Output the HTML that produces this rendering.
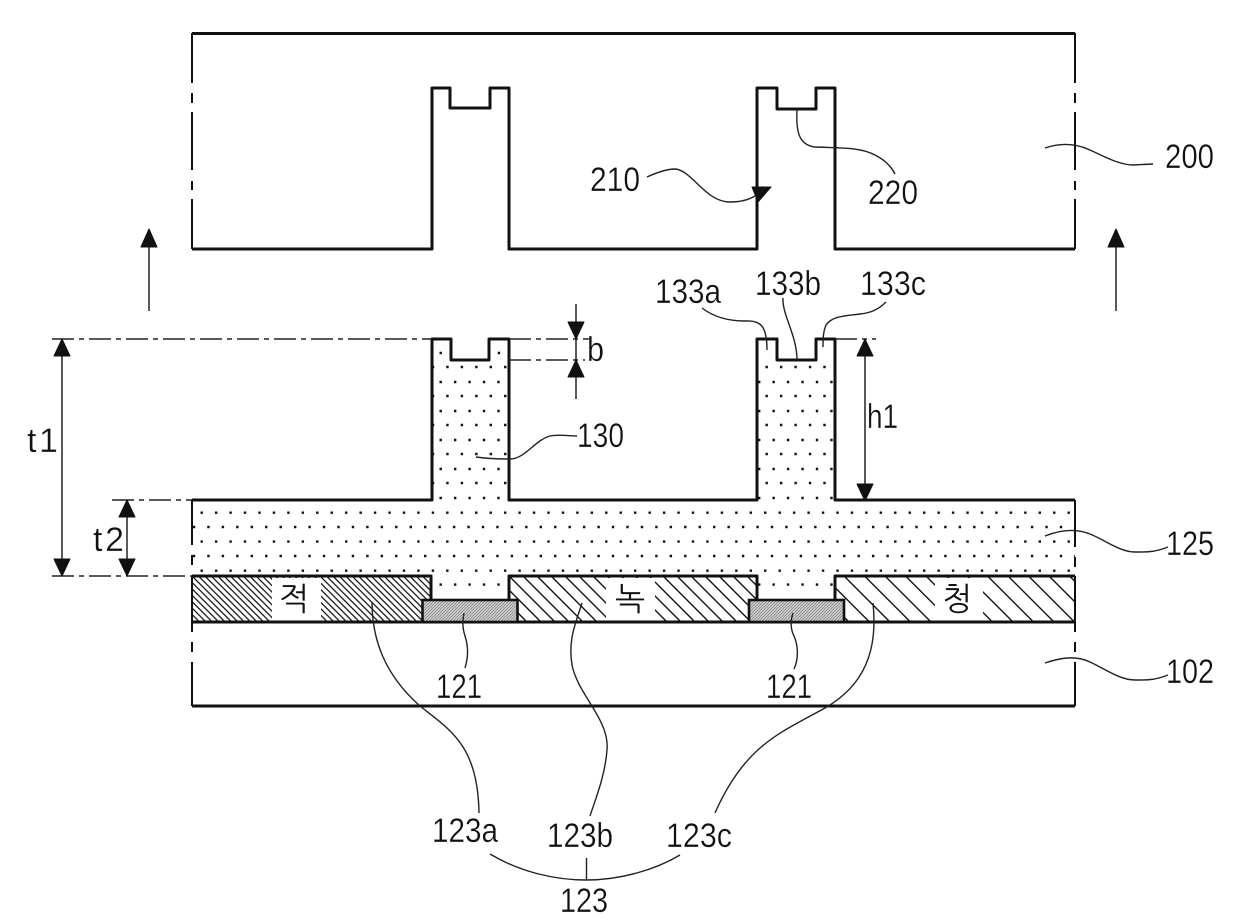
<!DOCTYPE html>
<html><head><meta charset="utf-8"><title>Diagram</title>
<style>
html,body{margin:0;padding:0;background:#fff;width:1240px;height:923px;overflow:hidden}
svg{display:block}
text{font-family:"Liberation Sans","Noto Sans CJK KR",sans-serif;font-size:34px;fill:#111;stroke:#fff;stroke-width:.3}
.k{font-family:"NanumGothic","Noto Sans CJK KR",sans-serif;font-size:32px;text-anchor:middle;stroke:none}
.th{fill:none;stroke:#111;stroke-width:3;stroke-linejoin:round}
.md{fill:none;stroke:#111;stroke-width:2}
.ln{fill:none;stroke:#222;stroke-width:1.5}
.da{fill:none;stroke:#222;stroke-width:1.5;stroke-dasharray:22 5 5 5}
.ar{fill:#111;stroke:#111;stroke-width:1;stroke-linejoin:round}
.dt{fill:none;stroke:#111;stroke-width:2.4;stroke-dasharray:2.4 12.05}
</style></head>
<body>
<svg width="1240" height="923" viewBox="0 0 1240 923" xmlns="http://www.w3.org/2000/svg">
<defs>
<pattern id="hR" patternUnits="userSpaceOnUse" width="6.4" height="6.4">
<path d="M-1 -1L7.4 7.4M-7.4 -1L1 7.4M5.4 -1L13.8 7.4" stroke="#111" stroke-width="1.3" fill="none"/></pattern>
<pattern id="hG" patternUnits="userSpaceOnUse" width="14" height="14" patternTransform="translate(3,0)">
<path d="M-1 -1L15 15M-15 -1L1 15M13 -1L29 15" stroke="#111" stroke-width="1.4" fill="none"/></pattern>
<pattern id="hB" patternUnits="userSpaceOnUse" width="20.5" height="20.5" patternTransform="translate(1.5,0)">
<path d="M-1 -1L21.5 21.5M-21.5 -1L1 21.5M19.5 -1L42 21.5" stroke="#111" stroke-width="1.4" fill="none"/></pattern>
<pattern id="hY" patternUnits="userSpaceOnUse" width="3" height="3">
<rect width="3" height="3" fill="#d2d2d2"/><path d="M-1 4L4 -1M-1 1L1 -1M2 4L4 2" stroke="#8a8a8a" stroke-width=".8" fill="none"/></pattern>
</defs>

<!-- dots: layer 125 -->
<path class="dt" d="M200.5 512.7H1075M192.8 527H1075M200.5 541.6H1075M192.8 556H1075M200.5 570.7H1075"/>
<!-- dots: first pillar -->
<path class="dt" d="M439.5 353H444M497.7 353H502"/>
<path class="dt" d="M431.8 367H509M439.5 382H509M431.8 396H509M439.5 411H509M431.8 425H509M439.5 440H509M431.8 454H509M439.5 469H509M431.8 483H509M439.5 498H509M439.5 584.6H509"/>
<!-- dots: second pillar -->
<path class="dt" d="M765.5 367H835M758 382H835M765.5 396H835M758 411H835M765.5 425H835M758 440H835M765.5 454H835M758 469H835M765.5 483H835M758 498H835M758 584.6H835"/>

<!-- hatching -->
<rect x="192" y="576" width="239" height="46" fill="url(#hR)"/>
<rect x="509" y="576" width="248" height="46" fill="url(#hG)"/>
<rect x="835" y="576" width="240" height="46" fill="url(#hB)"/>
<rect x="272" y="578" width="49" height="43" fill="#fff"/>
<rect x="606" y="578" width="49" height="43" fill="#fff"/>
<rect x="935" y="578" width="48" height="43" fill="#fff"/>

<!-- top block -->
<path class="th" d="M192 33.5H1075"/>
<path class="th" d="M192 249H432V88H450V108H490V88H509V249H757V88H777V109H816V88H835V249H1075"/>
<path class="md" d="M192 33V83M192 93V103M192 112V170M192 181V190M192 199V249"/>
<path class="md" d="M1075 33V83M1075 93V103M1075 112V170M1075 181V190M1075 199V249"/>

<!-- lower structure -->
<path class="th" d="M192 500H432V339H451V360H489V339H509V500H757V339H777V360H816V339H835V500H1075"/>
<path class="th" d="M192 576H431V600M509 600V576H757V600M835 600V576H1075"/>
<path class="th" d="M192 622H1075"/>
<path class="th" d="M192 706H1075"/>
<path class="md" d="M192 500V545M192 555V565M192 576V632M192 642V652M192 662V706"/>
<path class="md" d="M1075 500V547M1075 557V567M1075 576V632M1075 642V652M1075 662V706"/>

<!-- TFT blocks -->
<rect x="422.5" y="600" width="95" height="22" fill="url(#hY)" stroke="#111" stroke-width="2.6"/>
<rect x="749" y="600" width="95" height="22" fill="url(#hY)" stroke="#111" stroke-width="2.6"/>

<!-- dash-dot extension lines -->
<path class="da" d="M52 339H432"/>
<path class="da" d="M509 339H590"/>
<path class="da" d="M509 360H585"/>
<path class="da" d="M835 339H876"/>
<path class="da" d="M112 500H192"/>
<path class="da" d="M52 576H192"/>

<!-- dimension arrows -->
<path class="ln" d="M62 345V570"/>
<path class="ar" d="M62 339L70 356H54ZM62 576L70 559H54Z"/>
<path class="ln" d="M127 505V570"/>
<path class="ar" d="M127 500L135 517H119ZM127 576L135 559H119Z"/>
<path class="ln" d="M576 304V399"/>
<path class="ar" d="M576 339L584 322H568ZM576 360L584 377H568Z"/>
<path class="ln" d="M865 345V495"/>
<path class="ar" d="M865 339L873 356H857ZM865 501L873 484H857Z"/>
<path class="ln" d="M149 235V311"/>
<path class="ar" d="M149 229L157 247H141Z"/>
<path class="ln" d="M1116 235V311"/>
<path class="ar" d="M1116 229L1124 247H1108Z"/>
<path class="ar" d="M752 187L771 187L758 202Z"/>

<!-- leaders -->
<g style="fill:none;stroke:#222;stroke-width:1.4">
<path d="M647 177C658 172 667 169 675 169C692 170 705 202 730 202Q745 202 755 196"/>
<path d="M797 110C796 130 798 145 815 147C840 148 860 147 875 155C885 160 891 166 895 174"/>
<path d="M1045 148C1060 143 1075 143 1090 150S1120 165 1133 165L1153 164"/>
<path d="M1045 536C1060 530 1075 528 1090 534S1120 552 1135 552S1155 552 1168 547"/>
<path d="M1045 663C1060 658 1075 655 1090 662S1120 680 1135 680S1155 680 1168 675"/>
<path d="M476 457C490 459 500 459 510 459C525 459 535 440 550 436C560 434 565 436 577 436"/>
<path d="M702 308C715 318 730 321 745 321C760 320 767 325 767 350"/>
<path d="M783 298C782 315 797 335 797 360"/>
<path d="M886 302C878 310 870 313 860 314C845 316 832 316 826 325C823 332 823 340 823 347"/>
<path d="M372 602C372 640 385 675 420 706C450 730 478 745 479 813"/>
<path d="M582 603C575 625 568 640 572 665C578 695 610 720 607 750C605 775 597 795 590 816"/>
<path d="M873 603C878 650 865 685 825 708C780 733 745 745 715 813"/>
<path d="M490 854C520 872 555 880 586 880C620 880 655 870 680 855"/>
<path d="M586.5 858V880"/>
<path d="M464 613C462 622 463 630 465 636C468 645 469 655 465 668"/>
<path d="M793 613C790 622 791 630 794 636C798 645 799 658 794 669"/>
</g>

<!-- labels -->
<text x="590" y="191" textLength="50" lengthAdjust="spacingAndGlyphs">210</text>
<text x="868" y="204" textLength="50" lengthAdjust="spacingAndGlyphs">220</text>
<text x="1165" y="168" textLength="49" lengthAdjust="spacingAndGlyphs">200</text>
<text x="1166" y="555" textLength="48" lengthAdjust="spacingAndGlyphs">125</text>
<text x="1166" y="683" textLength="48" lengthAdjust="spacingAndGlyphs">102</text>
<text x="577" y="447" textLength="47" lengthAdjust="spacingAndGlyphs">130</text>
<text x="655" y="303" textLength="66" lengthAdjust="spacingAndGlyphs">133a</text>
<text x="755" y="295" textLength="66" lengthAdjust="spacingAndGlyphs">133b</text>
<text x="860" y="295" textLength="66" lengthAdjust="spacingAndGlyphs">133c</text>
<text x="867" y="428" textLength="31" lengthAdjust="spacingAndGlyphs">h1</text>
<text x="587" y="361" textLength="17" lengthAdjust="spacingAndGlyphs">b</text>
<text x="27 39" y="452">t1</text>
<text x="93" y="551" textLength="31" lengthAdjust="spacing">t2</text>
<text x="436" y="698" textLength="46" lengthAdjust="spacingAndGlyphs">121</text>
<text x="766" y="698" textLength="46" lengthAdjust="spacingAndGlyphs">121</text>
<text x="432" y="842" textLength="66" lengthAdjust="spacingAndGlyphs">123a</text>
<text x="547" y="847" textLength="66" lengthAdjust="spacingAndGlyphs">123b</text>
<text x="666" y="847" textLength="66" lengthAdjust="spacingAndGlyphs">123c</text>
<text x="560" y="912" textLength="48" lengthAdjust="spacingAndGlyphs">123</text>
<text class="k" x="294" y="610">적</text>
<text class="k" x="630" y="610">녹</text>
<text class="k" x="957" y="610">청</text>
</svg>
</body></html>
